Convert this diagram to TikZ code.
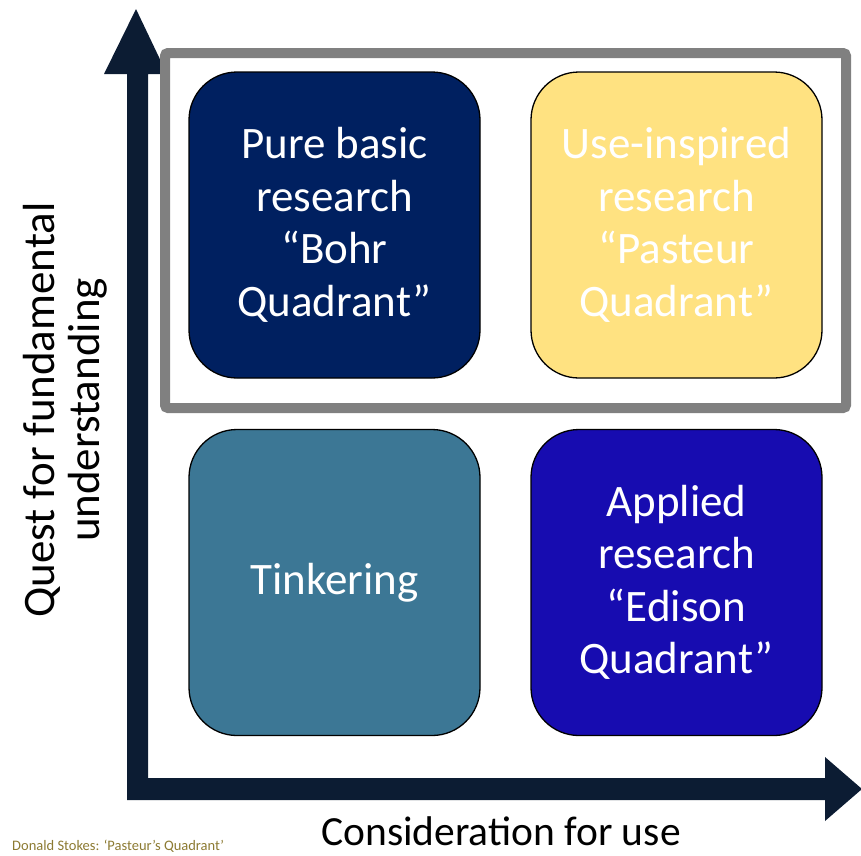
\documentclass[tikz,border=0pt]{standalone}
\usepackage{fontspec}
\setmainfont{Carlito}
\definecolor{arrowc}{HTML}{0C1C33}
\definecolor{framec}{HTML}{808080}
\definecolor{bohrc}{HTML}{002060}
\definecolor{pasteurc}{HTML}{FFE281}
\definecolor{tinkc}{HTML}{3C7795}
\definecolor{edisonc}{HTML}{170CB0}
\definecolor{capc}{HTML}{8C7A32}
\tikzset{
  quad/.style={draw=black, line width=1.3pt, rounded corners=48pt, minimum width=291pt, minimum height=306pt, text=white, align=center, font=\fontsize{45}{52.5}\selectfont, inner sep=0pt},
  axislabel/.style={text=black, inner sep=0pt, font=\fontsize{45}{46}\selectfont}
}
\begin{document}
\begin{tikzpicture}[x=1pt,y=-1pt]
\useasboundingbox (0,0) rectangle (861,855);
% axes arrows
\fill[arrowc] (127,800) -- (127,74) -- (104,74) -- (136,9) -- (167,74) -- (148,74) -- (148,778) -- (825,778) -- (825,757) -- (862,789) -- (825,821) -- (825,800) -- cycle;
% frame
\node[draw=framec, line width=10pt, rounded corners=3pt, minimum width=681pt, minimum height=355pt, inner sep=0pt] (frame) at (505.5,230.5) {};
% quadrants
\node[quad, fill=bohrc] (bohr) at (334.5,225) {Pure basic\\research\\“Bohr\\Quadrant”};
\node[quad, fill=pasteurc] (pasteur) at (676.5,225) {Use-inspired\\research\\“Pasteur\\Quadrant”};
\node[quad, fill=tinkc] (tink) at (334.5,582.5) {Tinkering};
\node[quad, fill=edisonc] (edison) at (676.5,582.5) {Applied\\research\\“Edison\\Quadrant”};
% labels
\node[axislabel, rotate=90, anchor=base] (ylab1) at (54,410) {Quest for fundamental};
\node[axislabel, rotate=90, anchor=base] (ylab2) at (99,410) {understanding};
\node[axislabel, font=\fontsize{41.5}{44}\selectfont, anchor=base] (xlab) at (501,845) {Consideration for use};
\node[text=capc, font=\fontsize{14.5}{16}\selectfont, anchor=base west, inner sep=0pt] (cap) at (12,850) {Donald Stokes: ‘Pasteur’s Quadrant’};
\end{tikzpicture}
\end{document}
